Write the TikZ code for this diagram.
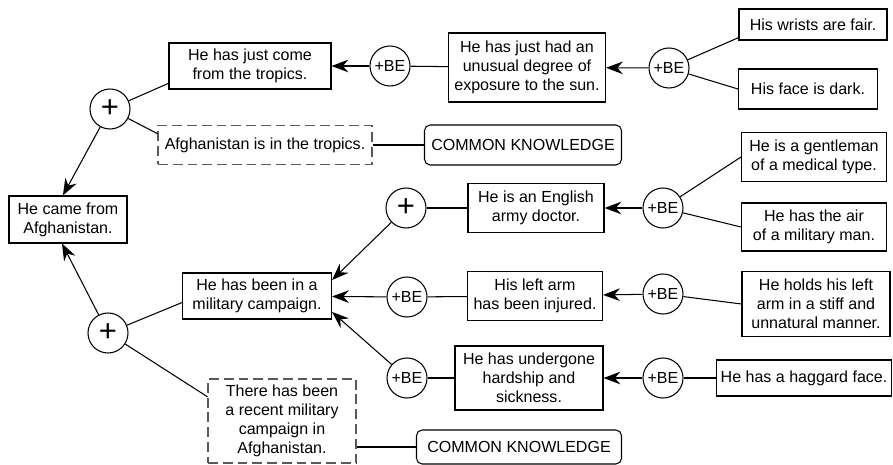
\documentclass[tikz,border=0pt]{standalone}
\usepackage{fontspec}
\setmainfont{Liberation Sans}
\usetikzlibrary{arrows.meta}
\tikzset{
  claim/.style={draw, rectangle, align=center, inner sep=1pt, line width=0.75pt},
  assumed/.style={claim, draw=black!65, dash pattern=on 7pt off 3.5pt},
  known/.style={claim, rounded corners=4pt},
  be/.style={draw, circle, minimum size=1cm, inner sep=0pt, line width=0.75pt},
  plus/.style={be, font=\fontsize{22}{22}\selectfont},
  sz/.style 2 args={minimum width=#1*0.025cm, minimum height=#2*0.025cm},
  infer/.style={-{Stealth[length=12pt,width=9pt,inset=4pt]}},
}
\begin{document}
\begin{tikzpicture}[x=0.025cm, y=-0.025cm, line width=0.75pt,
    font=\fontsize{11.4}{13.5}\selectfont]
  \useasboundingbox (0,0) rectangle (893,465);
  % sun and tropics
  \node[claim, sz={162}{46}] (justcome) at (250,66) {He has just come\\from the tropics.};
  \node[be] (be1) at (390,66) {+BE};
  \node[claim, sz={157}{69}] (sunexp) at (527,67.5) {He has just had an\\unusual degree of\\exposure to the sun.};
  \node[be] (be2) at (669,68) {+BE};
  \node[claim, sz={148}{31}] (wrists) at (813,24.5) {His wrists are fair.};
  \node[claim, sz={139}{40}] (face) at (808,89) {His face is dark.};
  \node[plus] (plustop) at (110,109) {+};
  \node[assumed, sz={214}{39}] (afgtrop) at (265,145) {Afghanistan is in the tropics.};
  \node[known, sz={197}{40}] (ck1) at (523,145) {COMMON KNOWLEDGE};
  \node[claim, sz={118}{47}] (came) at (68,219.5) {He came from\\Afghanistan.};
  % military campaign
  \node[plus] (plusdoc) at (406,208) {+};
  \node[claim, sz={136}{49}] (doctor) at (536,208) {He is an English\\army doctor.};
  \node[be] (be3) at (663,208) {+BE};
  \node[claim, sz={145}{49}] (gentleman) at (814,157) {He is a gentleman\\of a medical type.};
  \node[claim, sz={145}{48}] (air) at (814,227) {He has the air\\of a military man.};
  \node[claim, sz={149}{46}] (campaign) at (257,296) {He has been in a\\military campaign.};
  \node[be] (be4) at (407,297) {+BE};
  \node[claim, sz={135}{49}] (arm) at (535,296) {His left arm\\has been injured.};
  \node[be] (be5) at (663,294) {+BE};
  \node[claim, sz={148}{65}] (holds) at (816,304) {He holds his left\\arm in a stiff and\\unnatural manner.};
  \node[plus] (plusbot) at (108,333) {+};
  \node[be] (be6) at (407,378) {+BE};
  \node[claim, sz={148}{64}] (hardship) at (529,378) {He has undergone\\hardship and\\sickness.};
  \node[be] (be7) at (663,378) {+BE};
  \node[claim, sz={175}{36}] (haggard) at (804,378) {He has a haggard face.};
  \node[assumed, sz={148}{84}] (recent) at (282,421) {There has been\\a recent military\\campaign in\\Afghanistan.};
  \node[known, sz={205}{34}] (ck2) at (519,447) {COMMON KNOWLEDGE};

  \draw[infer] (be1) -- (justcome);
  \draw (be1) -- (sunexp);
  \draw[infer] (be2) -- (sunexp);
  \draw (be2) -- (wrists.190);
  \draw (be2) -- (face.west);
  \draw (plustop) -- (justcome.192);
  \draw (plustop) -- (afgtrop.174);
  \draw[infer] (plustop) -- (came.102);
  \draw (afgtrop) -- (ck1);

  \draw[infer] (plusbot) -- (came.256);
  \draw (plusbot) -- (campaign.185);
  \draw (plusbot) -- (recent.162);
  \draw (ck2.west) -- (ck2.west -| recent.east);
  \draw[infer] (plusdoc) -- (campaign.12);
  \draw (plusdoc) -- (doctor);
  \draw[infer] (be3) -- (doctor);
  \draw (be3) -- (gentleman.west);
  \draw (be3) -- (air.west);
  \draw[infer] (be4) -- (campaign);
  \draw (be4) -- (arm);
  \draw[infer] (be5) -- (arm);
  \draw (be5) -- (holds.west);
  \draw[infer] (be6) -- (campaign.348);
  \draw (be6) -- (hardship);
  \draw[infer] (be7) -- (hardship);
  \draw (be7) -- (haggard);
\end{tikzpicture}
\end{document}
